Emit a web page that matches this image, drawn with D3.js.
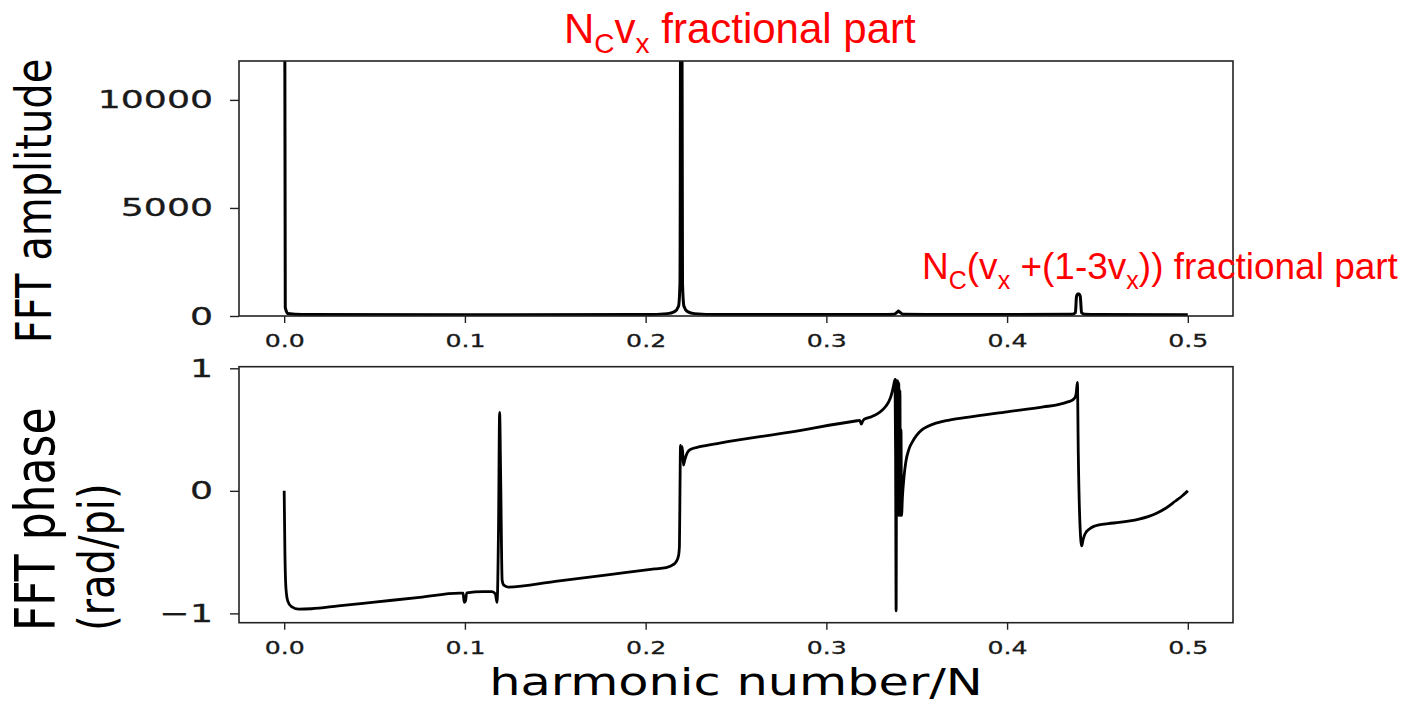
<!DOCTYPE html>
<html>
<head>
<meta charset="utf-8">
<script src="https://cdn.jsdelivr.net/npm/d3@7"></script>
<style>
  html, body { margin: 0; padding: 0; background: #fff; }
  svg { display: block; }
</style>
</head>
<body>
<svg id="chart" width="1401" height="703"></svg>
<script>
// ---------------- data ----------------
const xTicks = [0, 0.1, 0.2, 0.3, 0.4, 0.5];
const ampTicks = [0, 5000, 10000];
const phaseTicks = [-1, 0, 1];

// FFT amplitude vs harmonic number/N
const ampFreq = [0, 0.0006, 0.002, 0.01, 0.1, 0.2, 0.212, 0.216, 0.2182, 0.219, 0.2197, 0.2204, 0.2212, 0.2232, 0.227, 0.24, 0.33,
  0.3375, 0.3392, 0.3399, 0.3406, 0.3425, 0.4, 0.436, 0.4378, 0.4384, 0.4391, 0.4398, 0.4405, 0.4412, 0.443, 0.45, 0.5];
const ampValue = [30000, 400, 120, 70, 60, 65, 110, 200, 450, 1500, 30000, 1500, 450, 200, 110, 70, 65,
  80, 180, 230, 180, 80, 65, 80, 150, 900, 1020, 1020, 900, 150, 80, 65, 60];

// FFT phase (rad/pi) vs harmonic number/N
const phaseFreq = [0.0000, 0.0004, 0.0010, 0.0020, 0.0040, 0.0080, 0.0150, 0.0300, 0.0500, 0.0750, 0.0970, 0.0990, 0.0996, 0.1003,
  0.1010, 0.1100, 0.1150,
  0.1168, 0.1178, 0.1186, 0.1192, 0.1198, 0.1206, 0.1215, 0.1240, 0.1500, 0.1800, 0.2050, 0.2112, 0.2150, 0.2170, 0.2182, 0.2187,
  0.2190, 0.2193, 0.2197, 0.2203, 0.2209, 0.2216, 0.2230, 0.2250, 0.2300, 0.2410, 0.2800, 0.3170, 0.3185, 0.3193, 0.3200, 0.3210,
  0.3250, 0.3284, 0.3310, 0.3329, 0.3346, 0.3357, 0.3366, 0.3372, 0.3380,
  0.3383, 0.3386, 0.3389, 0.3392, 0.3395, 0.3398, 0.3401, 0.3404, 0.3407, 0.3410, 0.3413, 0.3416,
  0.3421, 0.3430, 0.3440, 0.3457, 0.3476, 0.3500, 0.3530, 0.3560, 0.3606, 0.3680, 0.3778, 0.4000, 0.4200, 0.4288,
  0.4340, 0.4361, 0.4375, 0.4382, 0.4389, 0.4394, 0.4404, 0.4413, 0.4420, 0.4432, 0.4454, 0.4480, 0.4509, 0.4560, 0.4620,
  0.4680, 0.4730, 0.4780, 0.4830, 0.4880, 0.4930, 0.4970, 0.5000];
const phaseValue = [0.00, -0.50, -0.80, -0.90, -0.945, -0.965, -0.962, -0.939, -0.908, -0.869, -0.835, -0.835, -0.91, -0.90,
  -0.832, -0.822, -0.822,
  -0.84, -0.91, -0.30, 0.64, 0.10, -0.73, -0.77, -0.785, -0.738, -0.683, -0.637, -0.626, -0.605, -0.575, -0.53, -0.45,
  0.00, 0.37, 0.30, 0.36, 0.21, 0.25, 0.31, 0.34, 0.36, 0.39, 0.48, 0.572, 0.575, 0.545, 0.565, 0.585,
  0.605, 0.63, 0.66, 0.69, 0.73, 0.77, 0.82, 0.86, 0.91,
  0.30, -0.98, 0.90, -0.20, 0.90, -0.20, 0.88, -0.20, 0.82, -0.20, 0.50, -0.20,
  -0.05, 0.12, 0.24, 0.34, 0.40, 0.455, 0.50, 0.525, 0.552, 0.578, 0.60, 0.645, 0.685, 0.705,
  0.728, 0.74, 0.76, 0.79, 0.884, 0.30, -0.30, -0.449, -0.40, -0.35, -0.313, -0.29, -0.278, -0.267, -0.258,
  -0.245, -0.23, -0.21, -0.18, -0.14, -0.085, -0.04, 0.00];

// ---------------- layout ----------------
const svg = d3.select("#chart");
const FONT = "DejaVu Sans, sans-serif";
const left = 239, right = 1233;
const x = d3.scaleLinear().domain([-0.025, 0.525]).range([left, right]);
const yAmp = d3.scaleLinear().domain([0, 11800]).range([316, 61]);
const yPh = d3.scaleLinear().domain([-1.076, 1.013]).range([622.7, 366.7]);

function panel(yScale, xs, ys, yTickVals, yFmt, id, xLabelY, sw) {
  const top = yScale.range()[1], bottom = yScale.range()[0];
  svg.append("clipPath").attr("id", id).append("rect")
    .attr("x", left).attr("y", top).attr("width", right - left).attr("height", bottom - top);

  const pts = xs.map((d, i) => [d, ys[i]]);
  svg.append("path")
    .datum(pts)
    .attr("clip-path", `url(#${id})`)
    .attr("fill", "none")
    .attr("stroke", "#000")
    .attr("stroke-width", sw)
    .attr("stroke-linejoin", "round")
    .attr("d", d3.line().curve(d3.curveMonotoneX).x(d => x(d[0])).y(d => yScale(d[1])));

  // x axis
  const gx = svg.append("g").attr("transform", `translate(0,${bottom})`)
    .call(d3.axisBottom(x).tickValues(xTicks).tickFormat(d3.format(".1f")).tickSize(7).tickSizeOuter(0));
  gx.select(".domain").remove();
  gx.selectAll(".tick line").attr("stroke", "#222").attr("stroke-width", 1.4);
  gx.selectAll(".tick text")
    .attr("font-family", FONT).attr("font-size", 18).attr("fill", "#1a1a1a")
    .attr("stroke", "#1a1a1a").attr("stroke-width", 0.3)
    .attr("dy", null).attr("y", xLabelY)
    .attr("transform", "scale(1.4,1)");

  // y axis
  const gy = svg.append("g").attr("transform", `translate(${left},0)`)
    .call(d3.axisLeft(yScale).tickValues(yTickVals).tickFormat(yFmt).tickSize(9).tickSizeOuter(0));
  gy.select(".domain").remove();
  gy.selectAll(".tick line").attr("stroke", "#222").attr("stroke-width", 1.4);
  gy.selectAll(".tick text")
    .attr("font-family", FONT).attr("font-size", 25).attr("fill", "#1a1a1a")
    .attr("stroke", "#1a1a1a").attr("stroke-width", 0.3)
    .attr("x", -26 / 1.45)
    .attr("transform", "scale(1.45,1)");

  // frame
  svg.append("rect").attr("x", left).attr("y", top).attr("width", right - left).attr("height", bottom - top)
    .attr("fill", "none").attr("stroke", "#222").attr("stroke-width", 1.6);
}

panel(yAmp, ampFreq, ampValue, ampTicks, d3.format("d"), "clipAmp", 31, 3);
panel(yPh, phaseFreq, phaseValue, phaseTicks, d3.format("d"), "clipPh", 31, 2.8);

// axis labels (stretched like the reference)
function rotLabel(txt, bx, by, size, anchor) {
  svg.append("text")
    .attr("transform", `translate(${bx},${by}) scale(1.25,1) rotate(-90)`)
    .attr("font-family", FONT).attr("font-size", size).attr("fill", "#000")
    .attr("text-anchor", anchor)
    .text(txt);
}
rotLabel("FFT amplitude", 51, 201, 40, "middle");
rotLabel("FFT phase", 54, 631, 44, "start");
rotLabel("(rad/pi)", 114, 631, 40, "start");

svg.append("text")
  .attr("transform", `translate(736,695) scale(1.3,1)`)
  .attr("font-family", FONT).attr("font-size", 38).attr("fill", "#000")
  .attr("text-anchor", "middle")
  .text("harmonic number/N");

// red annotations
function redNote(parts, tx, ty, size, subSize, subDy) {
  const t = svg.append("text").attr("x", tx).attr("y", ty)
    .attr("font-family", "Liberation Sans, Arial, sans-serif")
    .attr("font-size", size).attr("fill", "#ff0000");
  let sub = false;
  parts.forEach(p => {
    const s = t.append("tspan").text(p.t);
    if (p.sub) { s.attr("font-size", subSize).attr("dy", subDy); sub = true; }
    else if (sub) { s.attr("dy", -subDy); sub = false; }
  });
}
redNote([{t: "N"}, {t: "C", sub: true}, {t: "v"}, {t: "x", sub: true}, {t: " fractional part"}], 564, 43, 42, 28, 10);
redNote([{t: "N"}, {t: "C", sub: true}, {t: "(v"}, {t: "x", sub: true}, {t: " +(1-3v"}, {t: "x", sub: true},
  {t: ")) fractional part"}], 922, 279, 37, 25, 10);
</script>
</body>
</html>
